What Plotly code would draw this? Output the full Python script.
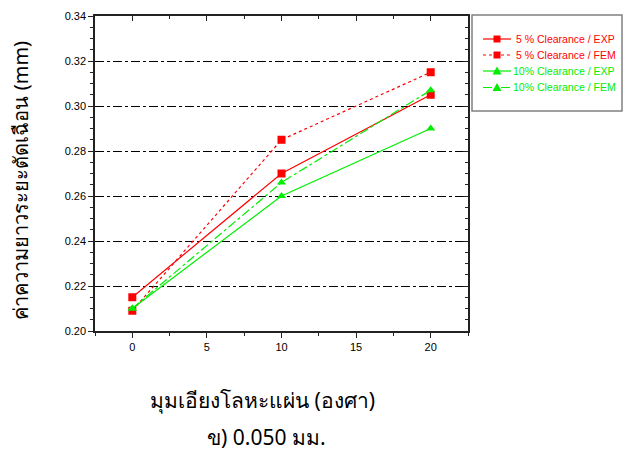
import plotly.graph_objects as go

# Tilt angle of the sheet (degrees)
angles = [0, 10, 20]

# Shear length values (mm)
clr5_exp = [0.215, 0.270, 0.305]
clr5_fem = [0.209, 0.285, 0.315]
clr10_exp = [0.210, 0.260, 0.290]
clr10_fem = [0.210, 0.266, 0.307]

series_names = [
    "5 % Clearance / EXP",
    "5 % Clearance / FEM",
    "10% Clearance / EXP",
    "10% Clearance / FEM",
]

x_ticks = [0, 5, 10, 15, 20]
y_ticks = [0.20, 0.22, 0.24, 0.26, 0.28, 0.30, 0.32, 0.34]

RED = "#ff0000"
GREEN = "#00ee00"
FONT = "Liberation Sans, Arial, sans-serif"
THAI_FONT = "Noto Sans, sans-serif"

styles = [
    (clr5_exp, RED, "solid", "square"),
    (clr5_fem, RED, "dot", "square"),
    (clr10_exp, GREEN, "solid", "triangle-up"),
    (clr10_fem, GREEN, "dashdot", "triangle-up"),
]

W, H = 629, 453
ML, MR, MT, MB = 95, 161, 16, 122
PW, PH = W - ML - MR, H - MT - MB


def px(x):
    """Pixel x -> paper fraction."""
    return (x - ML) / PW


def py(y):
    """Pixel y (from top) -> paper fraction."""
    return (H - MB - y) / PH


fig = go.Figure()
for (vals, color, dash, sym), name in zip(styles, series_names):
    fig.add_trace(go.Scatter(
        x=angles, y=vals, mode="lines+markers", name=name, showlegend=False,
        line=dict(color=color, width=1.2, dash=dash),
        marker=dict(color=color, symbol=sym, size=8),
    ))

axis_common = dict(showline=True, linecolor="#222222", linewidth=1.5,
                   zeroline=False, tickcolor="#222222", ticklen=5,
                   tickfont=dict(family=FONT, size=11, color="black"))

fig.update_xaxes(range=[-2.5, 22.5], tickvals=x_ticks, ticks="outside",
                 showgrid=False,
                 minor=dict(dtick=2.5, tick0=0, ticks="outside", ticklen=3,
                            tickcolor="#222222"),
                 **axis_common)
fig.update_yaxes(range=[0.20, 0.34], tickvals=y_ticks, tickformat=".2f",
                 ticks="outside", showgrid=True, gridcolor="black",
                 griddash="dashdot", gridwidth=1,
                 minor=dict(dtick=0.005, tick0=0.2, ticks="outside", ticklen=3,
                            tickcolor="#222222", showgrid=False),
                 **axis_common)

# Opposite-side axes with inward ticks
fig.update_layout(
    xaxis2=dict(overlaying="x", side="top", range=[-2.5, 22.5],
                tickvals=x_ticks, ticks="inside", showticklabels=False,
                showline=True, linecolor="#222222", linewidth=1.5,
                tickcolor="#222222", ticklen=5, showgrid=False, zeroline=False,
                minor=dict(dtick=2.5, tick0=0, ticks="inside", ticklen=3,
                           tickcolor="#222222")),
    yaxis2=dict(overlaying="y", side="right", range=[0.20, 0.34],
                tickvals=y_ticks, ticks="inside", showticklabels=False,
                showline=True, linecolor="#222222", linewidth=1.5,
                tickcolor="#222222", ticklen=5, showgrid=False, zeroline=False,
                minor=dict(dtick=0.005, tick0=0.2, ticks="inside", ticklen=3,
                           tickcolor="#222222")),
)
fig.add_trace(go.Scatter(x=[None], y=[None], xaxis="x2", yaxis="y2",
                         showlegend=False, hoverinfo="skip"))

# Legend box drawn by hand (compact row spacing)
shapes = [dict(type="rect", xref="paper", yref="paper",
               x0=px(472), x1=px(622), y0=py(111), y1=py(15),
               line=dict(color="#808080", width=1.5))]
annotations = []
row_y = [39, 55, 71, 87.5]
text_x = [516, 516, 513, 513]
for (vals, color, dash, sym), name, ry, tx in zip(styles, series_names, row_y, text_x):
    yp = py(ry)
    shapes.append(dict(type="line", xref="paper", yref="paper",
                       x0=px(483), x1=px(511), y0=yp, y1=yp,
                       line=dict(color=color, width=1.2, dash=dash)))
    if sym == "square":
        shapes.append(dict(type="rect", xref="paper", yref="paper",
                           xsizemode="pixel", ysizemode="pixel",
                           xanchor=px(497), yanchor=yp,
                           x0=-3.5, x1=3.5, y0=-3.5, y1=3.5,
                           fillcolor=color, line=dict(width=0)))
    else:
        shapes.append(dict(type="path", xref="paper", yref="paper",
                           xsizemode="pixel", ysizemode="pixel",
                           xanchor=px(497), yanchor=yp,
                           path="M -4.5,-3.5 L 4.5,-3.5 L 0,4.5 Z",
                           fillcolor=color, line=dict(width=0)))
    annotations.append(dict(text=name, xref="paper", yref="paper",
                            x=px(tx), y=yp, xanchor="left", yanchor="middle",
                            showarrow=False, xshift=-2,
                            font=dict(family=FONT, size=10.5, color=color)))

annotations += [
    dict(text="มุมเอียงโลหะแผ่น (องศา)", xref="paper", yref="paper",
         x=0.45, y=-0.22, xanchor="center", yanchor="middle",
         showarrow=False, font=dict(family=THAI_FONT, size=21, color="black")),
    dict(text="ข) 0.050 มม.", xref="paper", yref="paper",
         x=0.46, y=-0.335, xanchor="center", yanchor="middle",
         showarrow=False, font=dict(family=THAI_FONT, size=21, color="black")),
    dict(text="ค่าความยาวระยะตัดเฉือน (mm)", xref="paper", yref="paper",
         x=-0.2, y=0.479, xanchor="center", yanchor="middle", textangle=-90,
         showarrow=False, font=dict(family=THAI_FONT, size=20, color="black")),
]

fig.update_layout(
    width=W, height=H,
    margin=dict(l=ML, r=MR, t=MT, b=MB, autoexpand=False),
    paper_bgcolor="white", plot_bgcolor="white",
    showlegend=False,
    shapes=shapes,
    annotations=annotations,
)

fig.write_html("out.html")
